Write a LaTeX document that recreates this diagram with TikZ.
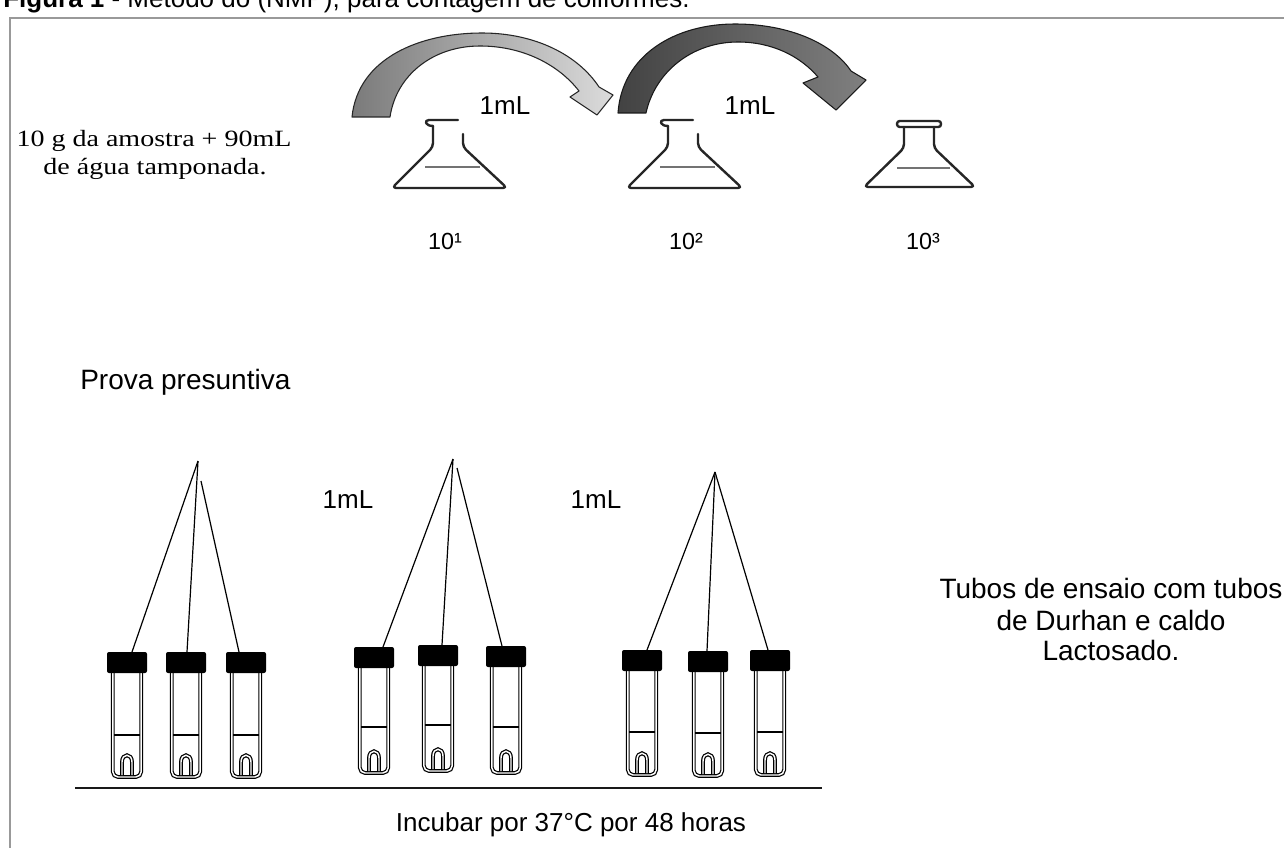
\documentclass[tikz,border=0pt]{standalone}
\usepackage{fontspec}
\setmainfont{Liberation Sans}
\newfontfamily\serifwide[FakeStretch=1.2]{Liberation Serif}
\begin{document}
\begin{tikzpicture}[x=0.75pt,y=-0.75pt,
  lbl/.style={inner sep=0pt, anchor=base, font=\fontsize{19.5}{23}\selectfont},
  biglbl/.style={inner sep=0pt, anchor=base, font=\fontsize{21}{25}\selectfont},
  small/.style={inner sep=0pt, anchor=base, font=\fontsize{17.5}{21}\selectfont},
  serifnote/.style={inner sep=0pt, anchor=base, font=\serifwide\fontsize{17.5}{21}\selectfont},
  frameline/.style={draw=black!40, line width=0.9pt},
  arrowlight/.style={draw=black!85, line width=0.8pt, line join=round, left color=black!52, right color=black!14},
  arrowdark/.style={draw=black!90, line width=0.8pt, line join=round, left color=black!74, right color=black!50},
  flaskline/.style={draw=black!85, line width=1.8pt, line cap=round, line join=round},
  liquidline/.style={draw=black!55, line width=0.9pt},
  tubewall/.style={draw=black, line width=0.9pt, double=white, double distance=1.1pt},
  tubeliquid/.style={draw=black, line width=1pt},
  tubecap/.style={fill=black, draw=none, inner sep=0pt, minimum width=30pt, minimum height=15.75pt, rounded corners=1.5pt},
  pipette/.style={draw=black, line width=0.9pt}]

\useasboundingbox (0,0) rectangle (1284,848);
\clip (0,0) rectangle (1284,848);
\fill[white] (0,0) rectangle (1284,848);

% caption and frame
\node[lbl, anchor=base west] (caption) at (3,8) {\textbf{Figura 1} - Método do (NMP), para contagem de coliformes.};
\draw[frameline] (10,848) -- (10,18) -- (1284,18);

% sample preparation
\node[serifnote] (sample1) at (154,147) {10 g da amostra + 90mL};
\node[serifnote] (sample2) at (155,175) {de água tamponada.};

% transfer arrows between the dilution flasks
\path[arrowlight] (352,117) .. controls (358,58) and (420,33) .. (482,33)
  .. controls (535,33) and (578,55) .. (599,87) -- (613,95) -- (597,115) -- (570,97) -- (579,91)
  .. controls (558,64) and (522,46) .. (480,46)
  .. controls (432,46) and (396,76) .. (390,117) -- cycle;
\path[arrowdark] (618,113) .. controls (622,55) and (675,24) .. (735,24)
  .. controls (790,24) and (833,44) .. (851,71) -- (866,80) -- (836,110) -- (803,83) -- (818,77)
  .. controls (800,56) and (772,42) .. (738,42)
  .. controls (692,42) and (655,72) .. (646,113) -- cycle;
\node[lbl] (vol1) at (505,115) {1mL};
\node[lbl] (vol2) at (750,115) {1mL};

% flasks 10^1 and 10^2 (open lip)
\foreach \s in {0,235}{
  \begin{scope}[shift={(\s,0)}]
    \draw[flaskline] (458,120) -- (429,120) .. controls (424,120) and (425,126) .. (433,126);
    \draw[flaskline, rounded corners=3pt] (433,126) -- (433,147) -- (392,188) -- (507,188) -- (463,147) -- (463,134);
    \draw[liquidline] (425,167) -- (480,167);
  \end{scope}
}
% flask 10^3 (closed lip)
\draw[flaskline, rounded corners=2pt] (897,121) rectangle (941,127);
\draw[flaskline, rounded corners=3pt] (904,127) -- (904,148) -- (864,187) -- (975,187) -- (934,148) -- (934,127);
\draw[liquidline] (897,168) -- (950,168);

\node[small] (dil1) at (445,250) {10¹};
\node[small] (dil2) at (686,250) {10²};
\node[small] (dil3) at (923,250) {10³};

% presumptive test
\node[biglbl, anchor=base west] (prova) at (80,389) {Prova presuntiva};
\node[lbl] (vol3) at (348,508) {1mL};
\node[lbl] (vol4) at (596,508) {1mL};

% test tubes with Durham tubes
\foreach \n/\cx/\ct/\lq/\bt in {a1/127/652/735/777, a2/186/652/735/777, a3/246/652/735/777,
                               b1/374/647/727/773, b2/438/645/725/771, b3/506/646/727/773,
                               c1/642/650/732/775, c2/708/651/733/776, c3/770/650/732/775}{
  \draw[tubewall, rounded corners=4pt] (\cx-14.2,\ct+19) -- (\cx-14.2,\bt) -- (\cx+14.2,\bt) -- (\cx+14.2,\ct+19);
  \draw[tubeliquid] (\cx-13,\lq) -- (\cx+13,\lq);
  \draw[tubewall] (\cx-5,\bt-2) -- (\cx-5,\bt-15) .. controls (\cx-5,\bt-24) and (\cx+5,\bt-24) .. (\cx+5,\bt-15) -- (\cx+5,\bt-2);
  \node[tubecap] (cap-\n) at (\cx,\ct+10.5) {};
}

% pipetting lines
\coordinate (pa) at (198,461);
\coordinate (pa2) at (201,481);
\coordinate (ea1) at (132,652);
\coordinate (ea2) at (187,652);
\coordinate (ea3) at (239,652);
\draw[pipette] (pa) -- (ea1);
\draw[pipette] (pa) -- (ea2);
\draw[pipette] (pa2) -- (ea3);

\coordinate (pb) at (453,459);
\coordinate (pb2) at (457,468);
\coordinate (eb1) at (383,647);
\coordinate (eb2) at (442,645);
\coordinate (eb3) at (502,646);
\draw[pipette] (pb) -- (eb1);
\draw[pipette] (pb) -- (eb2);
\draw[pipette] (pb2) -- (eb3);

\coordinate (pc) at (715,472);
\coordinate (ec1) at (647,650);
\coordinate (ec2) at (707,651);
\coordinate (ec3) at (768,650);
\draw[pipette] (pc) -- (ec1);
\draw[pipette] (pc) -- (ec2);
\draw[pipette] (pc) -- (ec3);

% bench line and notes
\coordinate (benchL) at (75,788);
\coordinate (benchR) at (822,788);
\draw[black!90, line width=1.8pt] (benchL) -- (benchR);
\node[biglbl] (tubos1) at (1111,598) {Tubos de ensaio com tubos};
\node[biglbl] (tubos2) at (1111,630) {de Durhan e caldo};
\node[biglbl] (tubos3) at (1111,660) {Lactosado.};
\node[lbl] (incubar) at (571,831) {Incubar por 37°C por 48 horas};
\end{tikzpicture}
\end{document}
